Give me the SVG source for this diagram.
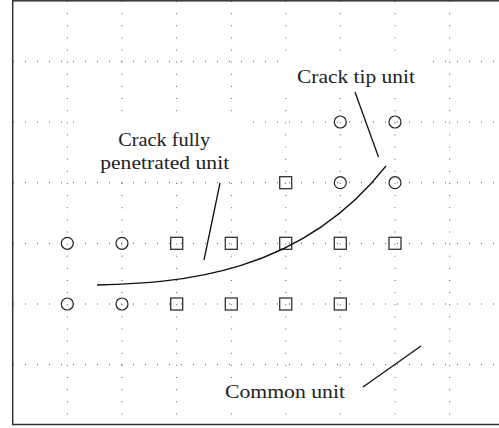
<svg xmlns="http://www.w3.org/2000/svg" width="499" height="428" viewBox="0 0 499 428">
<style>
.h{stroke:#555;stroke-width:1;stroke-dasharray:1 11}
.v{stroke:#555;stroke-width:1;stroke-dasharray:1 11.13}
.bg{fill:#fff;stroke:none}
.c{fill:none;stroke:#222;stroke-width:1.2}
.s{fill:none;stroke:#333;stroke-width:1.3}
.ln{fill:none;stroke:#111;stroke-width:1.3}
text{font-family:"Liberation Serif","Times New Roman",serif;font-size:19px;fill:#222;text-anchor:middle}
</style>
<rect width="499" height="428" fill="#fff"/>
<g id="grid">
<line class="h" x1="13" y1="61.3" x2="499" y2="61.3"/>
<line class="h" x1="13" y1="122" x2="499" y2="122"/>
<line class="h" x1="13" y1="182.7" x2="499" y2="182.7"/>
<line class="h" x1="13" y1="243.3" x2="499" y2="243.3"/>
<line class="h" x1="13" y1="304" x2="499" y2="304"/>
<line class="h" x1="13" y1="364.7" x2="499" y2="364.7"/>
<line class="v" x1="67.3" y1="1" x2="67.3" y2="425"/>
<line class="v" x1="122" y1="1" x2="122" y2="425"/>
<line class="v" x1="176.7" y1="1" x2="176.7" y2="425"/>
<line class="v" x1="231.3" y1="1" x2="231.3" y2="425"/>
<line class="v" x1="285.7" y1="1" x2="285.7" y2="425"/>
<line class="v" x1="340.3" y1="1" x2="340.3" y2="425"/>
<line class="v" x1="395" y1="1" x2="395" y2="425"/>
<line class="v" x1="449.7" y1="1" x2="449.7" y2="425"/>
</g>
<rect id="frame" x="12.7" y="0.8" width="492" height="423.7" fill="none" stroke="#333" stroke-width="1.5"/>
<g id="label-backgrounds">
<rect class="bg" x="280" y="55" width="153" height="37"/>
<rect class="bg" x="74" y="113" width="176" height="65"/>
<rect class="bg" x="220" y="379" width="132" height="27"/>
</g>
<g id="tip-units">
<circle class="c" cx="340.3" cy="122" r="6"/>
<circle class="c" cx="395" cy="122" r="6"/>
<circle class="c" cx="340.3" cy="182.7" r="6"/>
<circle class="c" cx="395" cy="182.7" r="6"/>
<circle class="c" cx="67.3" cy="243.3" r="6"/>
<circle class="c" cx="122" cy="243.3" r="6"/>
<circle class="c" cx="67.3" cy="304" r="6"/>
<circle class="c" cx="122" cy="304" r="6"/>
</g>
<g id="penetrated-units">
<rect class="s" x="279.7" y="176.7" width="12" height="12"/>
<rect class="s" x="170.7" y="237.3" width="12" height="12"/>
<rect class="s" x="225.3" y="237.3" width="12" height="12"/>
<rect class="s" x="279.7" y="237.3" width="12" height="12"/>
<rect class="s" x="334.3" y="237.3" width="12" height="12"/>
<rect class="s" x="389" y="237.3" width="12" height="12"/>
<rect class="s" x="170.7" y="298" width="12" height="12"/>
<rect class="s" x="225.3" y="298" width="12" height="12"/>
<rect class="s" x="279.7" y="298" width="12" height="12"/>
<rect class="s" x="334.3" y="298" width="12" height="12"/>
</g>
<g id="crack">
<path class="ln" d="M97,285 C180,283 300,275 386,166"/>
</g>
<g id="connectors">
<line class="ln" x1="220" y1="183" x2="204" y2="260"/>
<line class="ln" x1="355" y1="92" x2="378.5" y2="157"/>
<line class="ln" x1="363" y1="387" x2="421" y2="346"/>
</g>
<g id="label-tip">
<text x="356" y="82.5" textLength="118" lengthAdjust="spacingAndGlyphs">Crack tip unit</text>
</g>
<g id="label-penetrated">
<text x="164.2" y="145.7" textLength="92" lengthAdjust="spacingAndGlyphs">Crack fully</text>
<text x="164.7" y="169.3" textLength="129" lengthAdjust="spacingAndGlyphs">penetrated unit</text>
</g>
<g id="label-common">
<text x="285" y="398.3" textLength="120" lengthAdjust="spacingAndGlyphs">Common unit</text>
</g>
</svg>
